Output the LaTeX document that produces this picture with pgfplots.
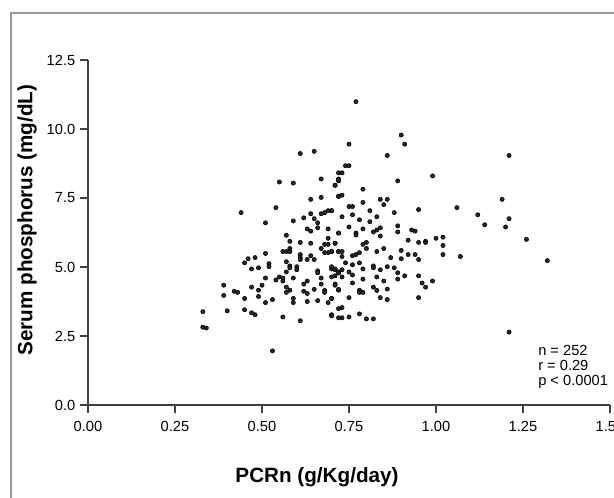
\documentclass[border=0pt]{standalone}
\usepackage{pgfplots}
\pgfplotsset{compat=1.18}
\usepackage{fontspec}
\setmainfont{Liberation Sans}
\begin{document}
\begin{tikzpicture}
\useasboundingbox (-66pt,-69.75pt) rectangle (394.5pt,303.75pt);
\draw[black!40, line width=0.8pt] (-57.75pt,-69.75pt) -- (-57.75pt,294pt) -- (394.5pt,294pt);
\begin{axis}[
  scale only axis, width=391.5pt, height=258.75pt,
  xmin=0, xmax=1.5, ymin=0, ymax=12.5,
  axis x line*=bottom, axis y line*=left,
  axis line style={-, black!75, line width=0.8pt},
  tick style={black!75, line width=0.8pt},
  tick align=outside, major tick length=6pt,
  xtick={0,0.25,0.5,0.75,1,1.25,1.5},
  ytick={0,2.5,5,7.5,10,12.5},
  /pgf/number format/assume math mode=true,
  ticklabel style={font=\fontsize{11}{13}\selectfont},
  xticklabel style={yshift=-3pt,/pgf/number format/.cd,fixed,fixed zerofill,precision=2},
  yticklabel style={/pgf/number format/.cd,fixed,fixed zerofill,precision=1},
  clip=false,
]
\addplot[only marks, mark=*, mark size=1.6pt, mark options={draw=none, fill=black!85}] table[row sep=\\] {
x y\\
.77 10.99\\ .90 9.78\\ .91 9.45\\ .75 9.45\\ .86 9.04\\ 1.21 9.04\\
.74 8.67\\ .75 8.67\\ .73 8.41\\ .72 8.19\\ .72 8.12\\ .71 7.96\\
.89 8.12\\ .99 8.30\\ .79 7.82\\ .72 7.56\\ .73 7.60\\ .84 7.45\\ .86 7.45\\
.85 7.26\\ .79 7.34\\ .75 7.19\\ .76 7.19\\ .70 7.04\\ .81 7.04\\ .88 6.97\\
.95 7.08\\ 1.06 7.15\\ 1.19 7.45\\ 1.12 6.89\\ 1.14 6.53\\ 1.21 6.75\\
1.20 6.45\\ 1.26 6.00\\ 1.32 5.23\\ 1.21 2.64\\
.73 6.82\\ .75 6.45\\ .77 6.23\\ .77 6.16\\ .78 6.71\\ .79 6.38\\ .81 6.64\\
.82 6.27\\ .83 6.34\\ .84 6.42\\ .84 6.12\\ .83 6.82\\ .76 6.89\\ .72 6.23\\
.89 6.49\\ .89 6.27\\ .93 6.34\\ .94 6.30\\ .92 5.97\\ .95 5.89\\ .97 5.93\\
.97 5.89\\ 1.00 6.04\\ 1.02 6.08\\ 1.02 5.78\\ 1.02 5.45\\ 1.07 5.38\\
.71 5.86\\ .79 5.82\\ .80 5.89\\ .80 5.67\\ .85 5.67\\ .83 5.56\\ .90 5.60\\
.90 5.30\\ .92 5.45\\ .94 5.45\\ .95 5.27\\ .87 5.34\\ .70 5.56\\ .72 5.56\\
.73 5.56\\ .73 5.38\\ .76 5.41\\ .77 5.45\\ .78 5.52\\ .74 5.15\\ .76 5.08\\
.78 5.15\\ .70 4.93\\ .71 4.90\\ .72 4.82\\ .73 4.90\\ .73 4.64\\ .75 4.82\\
.76 4.71\\ .79 4.93\\ .82 5.04\\ .82 4.97\\ .84 4.90\\ .86 5.01\\ .88 4.97\\
.89 4.79\\ .89 4.56\\ .91 4.68\\ .95 4.68\\ .96 4.42\\ .97 4.27\\ .99 4.49\\
.71 4.38\\ .72 4.16\\ .76 4.42\\ .79 4.56\\ .83 4.64\\ .85 4.49\\ .78 4.16\\
.78 4.08\\ .79 4.08\\ .82 4.27\\ .83 4.15\\ .86 4.20\\ .70 3.86\\ .75 3.89\\
.84 3.89\\ .86 3.82\\ .95 3.89\\ .73 3.53\\ .70 3.27\\ .73 3.16\\ .75 3.19\\
.78 3.30\\ .80 3.12\\ .82 3.12\\
.61 9.11\\ .65 9.19\\ .55 8.08\\ .59 8.04\\ .67 8.19\\ .72 8.16\\ .71 7.96\\
.72 8.41\\ .64 7.45\\ .67 7.52\\ .72 7.56\\ .44 6.97\\ .54 7.15\\ .51 6.60\\
.59 6.67\\ .62 6.78\\ .64 6.93\\ .65 6.75\\ .66 6.60\\ .67 6.93\\ .68 6.97\\
.69 7.04\\ .70 7.04\\ .63 6.38\\ .64 6.30\\ .66 6.42\\ .69 6.38\\ .72 6.23\\
.57 6.15\\ .58 5.93\\ .61 5.89\\ .64 5.86\\ .69 6.04\\ .68 5.82\\ .69 5.82\\
.67 5.67\\ .71 5.86\\ .68 5.52\\ .69 5.52\\ .70 5.56\\ .72 5.56\\ .56 5.56\\
.57 5.56\\ .58 5.67\\ .58 5.56\\ .61 5.45\\ .61 5.34\\ .61 5.27\\ .64 5.41\\
.63 5.27\\ .65 5.27\\ .51 5.49\\ .48 5.34\\ .46 5.30\\ .45 5.15\\ .47 4.93\\
.49 4.97\\ .52 5.12\\ .52 5.01\\ .57 5.19\\ .58 5.04\\ .58 4.97\\ .60 5.01\\
.60 4.90\\ .59 4.60\\ .57 4.82\\ .66 4.86\\ .66 4.79\\ .70 5.01\\ .71 4.93\\
.72 4.79\\ .72 4.79\\ .70 4.64\\ .71 4.68\\ .67 4.60\\ .63 4.49\\ .51 4.60\\
.54 4.53\\ .55 4.64\\ .56 4.60\\ .56 4.49\\ .39 4.34\\ .50 4.34\\ .47 4.27\\
.49 4.16\\ .67 4.38\\ .71 4.34\\ .62 4.38\\ .57 4.27\\ .58 4.16\\ .57 4.08\\
.62 4.12\\ .63 4.04\\ .65 4.19\\ .68 4.15\\ .68 4.08\\ .72 4.19\\ .39 3.97\\
.42 4.12\\ .43 4.08\\ .45 3.86\\ .49 3.93\\ .51 3.71\\ .53 3.82\\ .59 3.86\\
.59 3.71\\ .63 3.75\\ .66 3.78\\ .69 3.71\\ .70 3.86\\ .33 3.38\\ .40 3.41\\
.45 3.45\\ .47 3.34\\ .48 3.27\\ .56 3.19\\ .61 3.05\\ .70 3.23\\ .72 3.49\\
.72 3.16\\ .33 2.82\\ .34 2.79\\ .53 1.96\\
};
\end{axis}
\node[anchor=west, align=left, font=\fontsize{11}{11.25}\selectfont, inner sep=0pt] at (337.5pt,28.5pt) {n = 252\\r = 0.29\\p < 0.0001};
\node[font=\bfseries\fontsize{15.5}{17}\selectfont] at (171.75pt,-54pt) {PCRn (g/Kg/day)};
\node[font=\bfseries\fontsize{15.5}{17}\selectfont, rotate=90] at (-45.75pt,138.75pt) {Serum phosphorus (mg/dL)};
\end{tikzpicture}
\end{document}
